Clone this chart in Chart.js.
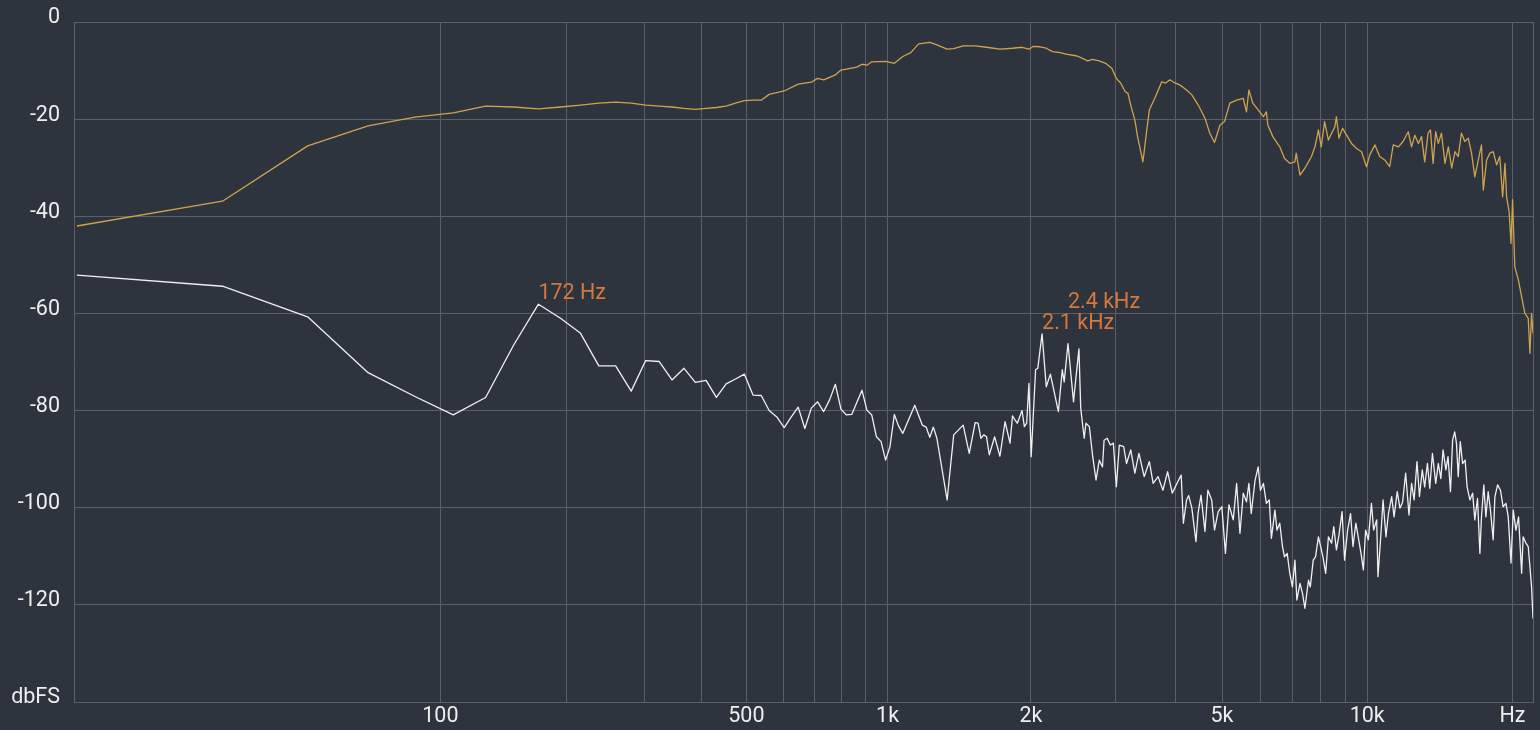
<!DOCTYPE html>
<html>
<head>
<meta charset="utf-8">
<title>Spectrum</title>
<script src="https://cdn.jsdelivr.net/npm/chart.js@4.4.0/dist/chart.umd.min.js"></script>
<style>
  html, body { margin: 0; padding: 0; background: #2e343d; }
  #wrap { width: 1540px; height: 730px; position: relative; }
</style>
</head>
<body>
<div id="wrap"><canvas id="spectrum"></canvas></div>
<script>
// FFT: 44.1 kHz, 2048 points -> one bin = 21.53 Hz
const BIN_HZ = 44100 / 2048;

// orange/gold curve (bin index, dBFS)
const goldBins = [
  0, 1, 2, 3, 4, 5, 6, 7, 8, 9,
  10, 11, 12, 13, 14, 15, 16, 17, 18, 19,
  20, 21, 22, 23, 24, 25, 26, 28, 30, 32,
  33, 34, 36, 37, 39, 40, 41, 42, 43, 46,
  48, 50, 52, 54, 57, 59, 62, 64, 67, 71,
  75, 80, 85, 89, 92, 94, 97, 100, 103, 107,
  110, 116, 119, 122, 125, 129, 133, 137, 140, 143,
  146, 148, 150, 153, 155, 159, 162, 164, 167, 170,
  174, 177, 181, 185, 190, 196, 201, 206, 208, 214,
  219, 224, 230, 235, 241, 249, 257, 261, 264, 269,
  276, 283, 287, 289, 296, 306, 313, 321, 329, 331,
  337, 345, 351, 356, 362, 368, 373, 379, 386, 392,
  398, 401, 406, 413, 421, 431, 441, 452, 463, 470,
  482, 493, 505, 517, 526, 539, 551, 565, 574, 583,
  593, 602, 611, 621, 628, 636, 644, 652, 662, 673,
  684, 695, 706, 717, 728, 740, 752, 764, 776, 789,
  801, 808, 821, 834, 847, 861, 874, 886, 896, 903,
  914, 922, 929, 939, 955, 970, 985, 1001, 1009, 1017,
  1024
];
const goldDb = [
  -42.0, -36.9, -25.5, -21.4, -19.6, -18.7, -17.3, -17.5, -17.9, -17.5,
  -17.1, -16.7, -16.5, -16.7, -17.1, -17.3, -17.5, -17.8, -18.0, -17.8,
  -17.6, -17.3, -16.7, -16.2, -16.1, -16.1, -14.9, -14.2, -12.8, -12.4,
  -11.6, -11.9, -10.9, -9.9, -9.5, -9.3, -8.7, -8.9, -8.2, -8.1,
  -8.5, -7.1, -6.3, -4.5, -4.2, -4.7, -5.6, -5.5, -4.9, -4.9,
  -5.2, -5.6, -5.4, -5.2, -5.6, -5.0, -5.1, -5.4, -6.1, -6.3,
  -6.6, -7.0, -7.5, -8.0, -7.7, -8.0, -8.5, -9.5, -11.6, -12.6,
  -14.3, -14.7, -17.1, -20.2, -23.6, -28.8, -22.2, -18.1, -16.4, -14.7,
  -12.3, -12.6, -11.9, -12.5, -13.0, -14.0, -15.0, -16.7, -17.4, -19.8,
  -22.9, -24.8, -21.2, -20.5, -16.7, -16.1, -15.7, -18.5, -14.0, -16.7,
  -18.1, -19.5, -18.5, -21.2, -23.6, -25.7, -28.1, -29.1, -28.8, -27.0,
  -31.5, -30.1, -28.8, -27.7, -25.7, -22.2, -25.7, -20.5, -24.3, -22.9,
  -21.6, -19.5, -23.9, -21.9, -23.3, -25.0, -26.0, -26.7, -29.8, -27.4,
  -25.3, -27.7, -28.4, -29.8, -25.3, -25.7, -24.6, -22.6, -25.7, -23.3,
  -25.0, -23.6, -28.8, -22.9, -22.2, -29.1, -22.6, -25.0, -22.9, -29.1,
  -25.7, -30.1, -26.7, -27.7, -22.9, -24.6, -23.9, -27.0, -31.9, -28.4,
  -25.3, -34.6, -28.4, -27.0, -26.7, -29.4, -27.7, -36.0, -29.1, -36.0,
  -39.1, -45.6, -36.6, -50.4, -53.1, -56.6, -60.0, -61.0, -68.2, -60.0,
  -64.1
];

// white curve (bin index, dBFS)
const whiteBins = [
  0, 1, 2, 3, 4, 5, 6, 7, 8, 9,
  10, 11, 12, 13, 14, 15, 16, 17, 18, 19,
  20, 21, 22, 23, 24, 25, 26, 27, 28, 29,
  30, 31, 32, 33, 34, 35, 36, 37, 38, 39,
  40, 41, 42, 43, 44, 45, 46, 47, 48, 49,
  50, 53, 55, 56, 57, 58, 59, 62, 64, 67,
  69, 71, 72, 73, 74, 75, 76, 78, 80, 82,
  84, 85, 86, 87, 89, 90, 91, 92, 93, 95,
  96, 98, 100, 102, 106, 108, 109, 111, 114, 115,
  117, 118, 120, 121, 123, 125, 127, 129, 131, 132,
  134, 136, 138, 140, 142, 145, 147, 150, 153, 156,
  160, 164, 167, 171, 175, 179, 183, 188, 191, 193,
  196, 198, 201, 205, 207, 210, 214, 217, 221, 224,
  228, 232, 236, 240, 245, 249, 253, 257, 261, 264,
  267, 272, 276, 279, 283, 287, 291, 294, 299, 302,
  306, 310, 313, 317, 321, 325, 329, 332, 337, 341,
  345, 351, 354, 359, 363, 368, 372, 376, 381, 386,
  392, 396, 401, 406, 412, 417, 423, 429, 434, 440,
  445, 451, 456, 461, 467, 474, 479, 486, 489, 496,
  501, 508, 514, 522, 528, 536, 543, 550, 558, 567,
  574, 581, 589, 596, 604, 611, 619, 626, 634, 644,
  652, 660, 667, 676, 683, 691, 698, 705, 711, 717,
  724, 732, 741, 748, 758, 768, 776, 786, 795, 801,
  810, 818, 827, 836, 847, 854, 865, 877, 888, 900,
  910, 922, 932, 944, 956, 970, 977, 990, 1001, 1009,
  1017, 1024
];
const whiteDb = [
  -52.1, -54.4, -60.7, -72.2, -77.1, -80.9, -77.3, -66.5, -58.1, -61.0,
  -64.1, -70.8, -70.8, -76.0, -69.7, -69.9, -73.7, -71.3, -74.2, -73.8,
  -77.3, -74.5, -73.5, -72.5, -76.8, -76.9, -80.0, -81.3, -83.5, -81.3,
  -79.3, -83.7, -79.5, -78.2, -80.2, -77.8, -74.6, -79.7, -80.9, -80.8,
  -78.3, -75.8, -79.9, -80.9, -85.4, -86.4, -90.2, -87.4, -80.8, -83.2,
  -84.7, -78.9, -83.0, -83.4, -85.5, -83.4, -85.7, -98.4, -85.0, -83.0,
  -88.8, -82.5, -82.6, -85.7, -85.0, -85.4, -89.1, -85.4, -89.4, -82.3,
  -86.7, -81.1, -81.9, -82.6, -80.0, -83.3, -82.6, -74.4, -89.5, -71.6,
  -71.3, -64.2, -75.1, -72.5, -80.2, -71.6, -74.1, -66.2, -78.2, -74.4,
  -67.3, -79.5, -85.7, -82.6, -83.3, -89.5, -94.3, -90.2, -91.6, -86.1,
  -85.7, -87.1, -86.7, -95.7, -87.1, -87.4, -90.9, -88.1, -92.9, -88.8,
  -93.6, -90.5, -95.0, -93.6, -96.4, -92.6, -97.0, -94.6, -93.3, -103.2,
  -98.4, -97.5, -100.1, -107.0, -101.2, -97.4, -104.9, -96.4, -98.4, -104.6,
  -100.8, -99.8, -109.4, -99.4, -102.5, -95.0, -105.3, -97.0, -98.8, -95.0,
  -101.2, -94.3, -91.6, -96.4, -95.0, -99.1, -98.4, -106.3, -100.5, -104.6,
  -103.2, -108.0, -110.1, -109.4, -113.5, -116.3, -110.8, -119.0, -115.6, -117.6,
  -120.7, -114.9, -116.3, -110.8, -110.1, -106.0, -108.0, -110.1, -113.5, -106.0,
  -107.3, -103.9, -108.7, -105.6, -100.8, -110.8, -104.6, -101.2, -108.0, -103.2,
  -106.0, -109.4, -112.8, -104.6, -106.6, -99.1, -104.6, -102.5, -114.2, -105.3,
  -98.4, -106.0, -101.2, -97.7, -101.9, -96.7, -100.1, -98.8, -92.9, -101.5,
  -95.0, -98.4, -90.5, -97.7, -92.2, -95.7, -90.9, -96.0, -88.8, -95.0,
  -90.9, -94.0, -88.1, -92.2, -89.5, -96.7, -86.1, -84.4, -86.7, -93.6,
  -86.4, -90.9, -90.2, -95.7, -98.4, -97.0, -102.5, -98.1, -109.4, -101.9,
  -95.3, -101.9, -96.7, -100.5, -106.6, -97.7, -95.3, -96.4, -99.8, -99.1,
  -101.9, -111.4, -100.5, -104.6, -101.9, -113.5, -106.0, -107.3, -108.0, -112.1,
  -116.3, -122.8
];

// peak markers on the white curve
const peakBins = [8, 98, 111];
const peakLabels = ['172 Hz', '2.1 kHz', '2.4 kHz'];

// axes
const xTickFreqs = [100, 200, 300, 400, 500, 600, 700, 800, 900, 1000,
  2000, 3000, 4000, 5000, 6000, 7000, 8000, 9000, 10000, 20000, 22050];
const xTickLabels = ['100', '', '', '', '500', '', '', '', '', '1k',
  '2k', '', '', '5k', '', '', '', '', '10k', 'Hz', ''];
const yTicks = [-140, -120, -100, -80, -60, -40, -20, 0];
const yTickLabels = ['dbFS', '-120', '-100', '-80', '-60', '-40', '-20', '0'];

// x position = log10(f + one bin), so 0 Hz still has a place on the left
function toAxis(bin) {
  return Math.log10(bin * BIN_HZ + BIN_HZ);
}

const gridColor = '#596069';
const textColor = '#eeeeee';
const tickFont = { family: 'Roboto', size: 21.5 };

const peakPlugin = {
  id: 'peakLabels',
  afterDatasetsDraw(chart) {
    const ctx = chart.ctx;
    const x = chart.scales.x, y = chart.scales.y;
    ctx.save();
    ctx.font = '21.5px Roboto';
    ctx.fillStyle = '#d4783f';
    ctx.textAlign = 'left';
    ctx.textBaseline = 'alphabetic';
    const capH = 15.5;
    const placed = [];
    peakBins.forEach((bin, i) => {
      const idx = whiteBins.indexOf(bin);
      const px = x.getPixelForValue(toAxis(bin));
      const py = y.getPixelForValue(whiteDb[idx]);
      const w = ctx.measureText(peakLabels[i]).width;
      let base = py - 5;
      let moved = true;
      while (moved) {
        moved = false;
        for (const b of placed) {
          if (px < b.x2 && px + w > b.x1 && base > b.top && base - capH < b.base) {
            base = b.top - 5;
            moved = true;
          }
        }
      }
      ctx.fillText(peakLabels[i], px, base);
      placed.push({ x1: px, x2: px + w, top: base - capH, base: base });
    });
    ctx.restore();
  }
};

new Chart(document.getElementById('spectrum'), {
  type: 'line',
  data: {
    datasets: [
      {
        label: 'level',
        data: goldBins.map((b, i) => ({ x: toAxis(b), y: goldDb[i] })),
        borderColor: '#cfa252',
        borderWidth: 1.3,
        borderJoinStyle: 'round',
        pointRadius: 0,
        tension: 0
      },
      {
        label: 'noise',
        data: whiteBins.map((b, i) => ({ x: toAxis(b), y: whiteDb[i] })),
        borderColor: '#f0f0f0',
        borderWidth: 1.3,
        borderJoinStyle: 'round',
        pointRadius: 0,
        tension: 0
      }
    ]
  },
  options: {
    responsive: true,
    maintainAspectRatio: false,
    animation: false,
    layout: { padding: { left: 0, right: 7, top: 22, bottom: 0 } },
    plugins: {
      legend: { display: false },
      tooltip: { enabled: false }
    },
    scales: {
      x: {
        type: 'linear',
        min: Math.log10(BIN_HZ) - 0.006,
        max: toAxis(1024),
        afterBuildTicks: axis => {
          axis.ticks = xTickFreqs.map(f => ({ value: Math.log10(f + BIN_HZ) }));
        },
        afterFit: axis => { axis.height = 28; },
        ticks: {
          autoSkip: false,
          maxRotation: 0,
          padding: 2,
          color: textColor,
          font: tickFont,
          callback: (v, i) => xTickLabels[i]
        },
        grid: { color: gridColor, lineWidth: 1, drawTicks: false },
        border: { color: gridColor, width: 1 }
      },
      y: {
        min: -140,
        max: 0,
        afterBuildTicks: axis => {
          axis.ticks = yTicks.map(v => ({ value: v }));
        },
        afterFit: axis => {
          axis.width = 74;
          // label overhang is covered by the layout padding
          axis.paddingTop = 0;
          axis.paddingBottom = 0;
        },
        ticks: {
          padding: 14,
          labelOffset: -4,
          color: textColor,
          font: tickFont,
          callback: (v, i) => yTickLabels[i]
        },
        grid: { color: gridColor, lineWidth: 1, drawTicks: false },
        border: { color: gridColor, width: 1 }
      }
    }
  },
  plugins: [peakPlugin]
});
</script>
</body>
</html>
